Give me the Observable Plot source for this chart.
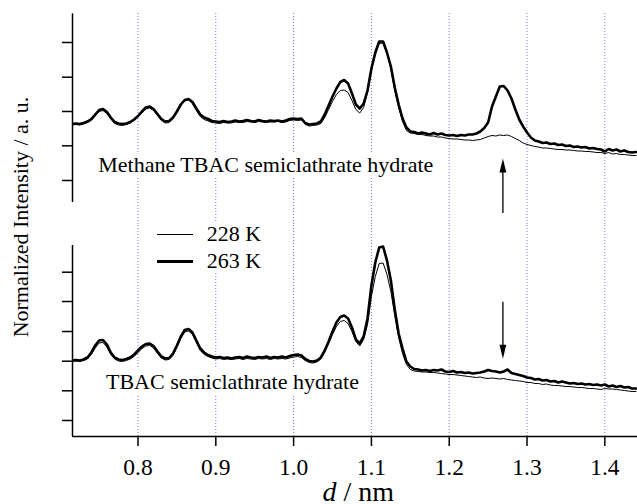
<!DOCTYPE html>
<html><head><meta charset="utf-8">
<script src="https://cdn.jsdelivr.net/npm/d3@7"></script>
<script src="https://cdn.jsdelivr.net/npm/@observablehq/plot@0.6"></script>
<style>
html,body{margin:0;padding:0;background:#fff;}
#chart{position:relative;width:637px;height:504px;overflow:hidden;font-family:"Liberation Serif","Times New Roman",serif;color:#000;}
#chart svg{position:absolute;left:0;}
.lbl{position:absolute;white-space:nowrap;font-size:22px;line-height:26px;background:#fff;padding:0 3px;}
</style></head><body><div id="chart"></div>
<script>
// d-spacing (nm)
const dNm = [
0.715,0.72,0.725,0.73,0.735,0.74,0.745,0.75,0.755,0.76,
0.765,0.77,0.775,0.78,0.785,0.79,0.795,0.8,0.805,0.81,
0.815,0.82,0.825,0.83,0.835,0.84,0.845,0.85,0.855,0.86,
0.865,0.87,0.875,0.88,0.885,0.89,0.895,0.9,0.905,0.91,
0.915,0.92,0.925,0.93,0.935,0.94,0.945,0.95,0.955,0.96,
0.965,0.97,0.975,0.98,0.985,0.99,0.995,1.0,1.005,1.01,
1.015,1.02,1.025,1.03,1.035,1.04,1.045,1.05,1.055,1.06,
1.065,1.07,1.075,1.08,1.085,1.09,1.095,1.1,1.105,1.11,
1.115,1.12,1.125,1.13,1.135,1.14,1.145,1.15,1.155,1.16,
1.165,1.17,1.175,1.18,1.185,1.19,1.195,1.2,1.205,1.21,
1.215,1.22,1.225,1.23,1.235,1.24,1.245,1.25,1.255,1.26,
1.265,1.27,1.275,1.28,1.285,1.29,1.295,1.3,1.305,1.31,
1.315,1.32,1.325,1.33,1.335,1.34,1.345,1.35,1.355,1.36,
1.365,1.37,1.375,1.38,1.385,1.39,1.395,1.4,1.405,1.41,
1.415,1.42,1.425,1.43,1.435,1.44];

// Methane TBAC semiclathrate hydrate (upper panel), a.u.
const methane228 = [
75.5,76,75.5,76.5,78,80,84.5,89,90,87,
81.5,77,75.5,75,76,77.5,80,83.5,87.5,91.5,
92.5,90,85,80,77.5,78,82,88,95,99.5,
100.5,97,90,84,81,79.5,78,77.5,77,78,
77.5,77.5,78.5,78,78,79,78.5,78,79,78.5,
78,78.5,78.5,79,78,78.5,80,80.5,80,80.5,
76,74.5,75,75.5,77,83,91,99,106,110,
110.5,108,100,91,87.5,93,108,130,146,157,
157.5,147,132,110,93,79,70,67.5,67,66,
66,65,64.5,64.5,63.5,63.5,62.5,62,61.5,61.5,
61,60.5,60.5,60,60.5,61,62.5,64,65,64.5,
65.5,65,65.5,64,62,60,57.5,56,55,54,
53.5,52.5,52.5,52,51.5,51,51,50.5,50.5,50,
49.5,49.5,49,49,48.5,48,48,47,48,46.5,
47,46,46,45.5,45,45];
const methane263 = [
76.5,77,76.5,77.5,79,81.5,86,90.5,91.5,88.5,
83,78.5,77,76.5,77,78.5,81,84.5,89,93,
94,91.5,86.5,81.5,79,79.5,83,89,96,100.5,
101.5,98.5,92,86,83,81.5,79.5,79,78.5,79.5,
78.5,79,80,79,79.5,80.5,79.5,79,80.5,79.5,
79,80,79.5,80,79,80,81.5,82,81.5,82,
77.5,76,76.5,77,79,86,95,104,112,118.5,
120.5,117,107,96,92,97,110,132,148,159,
159,148,134,113,96,82,73,69,68.5,67,
68,67,66,67.5,66,67,65.5,65,65.5,64.5,
65.5,65,66,66,67,69,72.5,78,94,104,
114,114.5,110,102,91,81,74,68,63,60,
59,57.5,58,56.5,57,55.5,56,54.5,55,53.5,
54,53,53.5,52,52.5,51.5,51,49,51.5,50,
51,49,50,48.5,48,48.5];

// TBAC semiclathrate hydrate (lower panel), a.u.
const tbac228 = [
79,79.5,79,80,81.5,86,92.5,97.5,98,93.5,
86,81.5,79.5,79,80,81.5,84,88,92,94.5,
95,92.5,87,82.5,80.5,81,85,93,102,108.5,
109.5,106,98,90,86,84,82.5,81.5,82,81,
81.5,81,81.5,82,81,82,81.5,81,82,81.5,
82,81,82,81.5,82,81.5,82.5,83.5,84,83,
80,78,77.5,78.5,81.5,89,97,106,114,119,
120,117,109,99,94.5,101,116,144,164,177,
177.5,166,149,125,103,87,76,71,69.5,69,
68.5,68.5,68,68,67.5,67,66.5,66,66,65.5,
65,64.5,64,63.5,63,63.5,62.5,62,62.5,62,
61.5,62,61,60.5,60,59.5,59,58,58,57,
57,56,56.5,55.5,55,55,54.5,54,54,53.5,
53,53,52.5,52,52,51.5,51,52,51.5,51.5,
51,50.5,50,49.5,49,49];
const tbac263 = [
80,80.5,80,81,83,88,95,100,100.5,96,
88,83,81,80.5,81.5,83,86,90,94,96.5,
97,94.5,89,84,82,82.5,87,95,104,110.5,
111.5,108,100,92,88,85.5,84,83,83.5,82.5,
83,82,83,83.5,82.5,84,83,82.5,83.5,83,
84,82.5,83.5,83,84,83,84.5,85.5,86,85,
81.5,79.5,79,80,83,90,99,109,118,123.5,
125,122,113,101,97,104,122,155,178,193,
194,180,160,131,107,92,79,74,71.5,71,
70,70.5,69.5,70.5,70,71,69,68.5,69.5,68,
68.5,67.5,68,67,67.5,68,69,70.5,69.5,69,
68,69,71,67.5,66.5,65.5,64.5,63,62.5,61,
61.5,60,60.5,59,59.5,58,59,58,57,57.5,
56.5,57,56,56.5,55.5,56,55,56,54,55,
53.5,54.5,53,53.5,52,52];

// axes
const xDomain = [0.7158, 1.442];
const xTicks = [0.8, 0.9, 1.0, 1.1, 1.2, 1.3, 1.4];
const topDomain = [-2, 186.7];
const topTicks = [20, 54.7, 89, 123.3, 158];
const botDomain = [4, 195];
const botTicks = [20, 49.7, 79.3, 109, 139, 168.3];
// arrows: [d, tail, tip]
const topArrow = [1.269, -13, 42];
const botArrow = [1.269, 138.3, 81.7];

const rows = (ys) => dNm.map((d, i) => ({d, v: ys[i]}));
const head = {draw(ctx) { ctx.moveTo(0, 0); ctx.lineTo(-3.4, 14); ctx.lineTo(3.4, 14); ctx.closePath(); }};
const grid = {stroke: "#7373ff", strokeDasharray: "1,2", strokeWidth: 1};
const common = {
  width: 637, marginLeft: 72, marginRight: 0,
  style: {fontFamily: "Liberation Serif, Times New Roman, serif", fontSize: "23.5px", background: "transparent", overflow: "visible", color: "#000"}
};

const topPlot = Plot.plot({
  ...common, height: 225, marginTop: 13, marginBottom: 0,
  x: {domain: xDomain, axis: null},
  y: {domain: topDomain, range: [202, 13.3], axis: null},
  marks: [
    Plot.ruleX(xTicks, grid),
    Plot.ruleX([xDomain[0]], {y1: topDomain[0], y2: topDomain[1], strokeWidth: 1.5}),
    Plot.axisY({ticks: topTicks, tickSize: 10, tickFormat: () => "", label: null, strokeWidth: 1.5}),
    Plot.line(rows(methane263), {x: "d", y: "v", strokeWidth: 2.6, clip: true}),
    Plot.line(rows(methane228), {x: "d", y: "v", strokeWidth: 1, clip: true}),
    Plot.ruleX([topArrow[0]], {y1: topArrow[1], y2: topArrow[2] - 8, strokeWidth: 1.3}),
    Plot.dot([topArrow], {x: (a) => a[0], y: (a) => a[2], symbol: head, fill: "black", stroke: null})
  ]
});

const botPlot = Plot.plot({
  ...common, height: 279, marginTop: 0, marginBottom: 68,
  x: {domain: xDomain, axis: null},
  y: {domain: botDomain, range: [211, 20], axis: null},
  marks: [
    Plot.ruleX(xTicks, grid),
    Plot.ruleX([xDomain[0]], {y1: botDomain[0], y2: botDomain[1], strokeWidth: 1.5}),
    Plot.ruleY([botDomain[0]], {strokeWidth: 1.5}),
    Plot.axisY({ticks: botTicks, tickSize: 10, tickFormat: () => "", label: null, strokeWidth: 1.5}),
    Plot.axisX({ticks: xTicks, tickSize: 10, tickPadding: 12, tickFormat: d3.format(".1f"), label: null, strokeWidth: 1.5}),
    Plot.line(rows(tbac263), {x: "d", y: "v", strokeWidth: 2.6, clip: true}),
    Plot.line(rows(tbac228), {x: "d", y: "v", strokeWidth: 1, clip: true}),
    Plot.ruleX([botArrow[0]], {y1: botArrow[1], y2: botArrow[2] + 7, strokeWidth: 1.3}),
    Plot.dot([botArrow], {x: (a) => a[0], y: (a) => a[2], symbol: head, rotate: 180, fill: "black", stroke: null})
  ]
});

const chart = document.getElementById("chart");
topPlot.style.top = "0px";
botPlot.style.top = "225px";
chart.append(topPlot, botPlot);

function addDiv(html, css, cls) {
  const el = document.createElement("div");
  el.innerHTML = html;
  el.style.cssText = css;
  if (cls) el.className = cls;
  chart.append(el);
  return el;
}
addDiv("Methane TBAC semiclathrate hydrate", "left:95.3px;top:152.4px;", "lbl");
addDiv("TBAC semiclathrate hydrate", "left:103px;top:368.6px;", "lbl");
// legend
addDiv("", "position:absolute;left:150px;top:222px;width:115px;height:50px;background:#fff;");
addDiv("", "position:absolute;left:156.7px;top:233.5px;width:36.6px;height:1px;background:#000;");
addDiv("", "position:absolute;left:156.7px;top:259.7px;width:36.6px;height:3px;background:#000;");
addDiv("228 K", "position:absolute;left:206.7px;top:221.3px;font-size:22px;line-height:26px;white-space:nowrap;");
addDiv("263 K", "position:absolute;left:206.7px;top:247.9px;font-size:22px;line-height:26px;white-space:nowrap;");
// axis titles
addDiv("Normalized Intensity / a. u.", "position:absolute;left:20.9px;top:216.7px;font-size:22px;line-height:22px;white-space:nowrap;transform:translate(-50%,-50%) rotate(-90deg);");
addDiv("<i>d</i> / nm", "position:absolute;left:358.3px;top:481.5px;font-size:28px;line-height:20px;white-space:nowrap;transform:translateX(-50%);");
</script></body></html>
